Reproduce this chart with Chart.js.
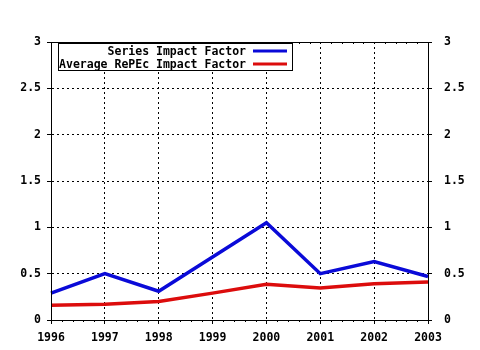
<!DOCTYPE html>
<html>
<head>
<meta charset="utf-8">
<script src="https://cdn.jsdelivr.net/npm/chart.js@4"></script>
<style>
  html, body { margin: 0; padding: 0; background: #fff; }
  #wrap { width: 480px; height: 350px; }
</style>
</head>
<body>
<div id="wrap"><canvas id="chart" width="480" height="350"></canvas></div>
<script>
// values
const years = ['1996', '1997', '1998', '1999', '2000', '2001', '2002', '2003'];
const seriesIF = [0.29, 0.50, 0.31, 0.68, 1.05, 0.50, 0.63, 0.47];
const avgRepecIF = [0.16, 0.17, 0.20, 0.29, 0.385, 0.345, 0.39, 0.41];
const yTicks = [0, 0.5, 1, 1.5, 2, 2.5, 3];
const seriesNames = ['Series Impact Factor', 'Average RePEc Impact Factor'];
const seriesColors = ['#0a0ad8', '#dc0c0c'];

const FONT = { family: '"DejaVu Sans Mono", "Liberation Mono", monospace', size: 11.5, weight: 'bold' };
const fontStr = 'bold 11.5px "DejaVu Sans Mono", "Liberation Mono", monospace';

// frame, minor ticks and the boxed legend
const decor = {
  id: 'decor',
  afterDraw(chart) {
    const ctx = chart.ctx;
    const a = chart.chartArea;
    const xs = chart.scales.x;
    ctx.save();
    ctx.strokeStyle = '#000';
    ctx.lineWidth = 1;
    ctx.strokeRect(Math.round(a.left) + 0.5, Math.round(a.top) + 0.5,
      Math.round(a.right - a.left), Math.round(a.bottom - a.top));

    // minor ticks between years
    ctx.beginPath();
    for (let i = 0; i < years.length - 1; i++) {
      for (let k = 1; k < 5; k++) {
        const px = Math.round(xs.getPixelForValue(i + k / 5)) + 0.5;
        ctx.moveTo(px, a.bottom);
        ctx.lineTo(px, a.bottom + 2);
        ctx.moveTo(px, a.top);
        ctx.lineTo(px, a.top + 2);
      }
    }
    ctx.stroke();

    // legend box
    const bx = 58.5, by = 43.5, bw = 234, bh = 27;
    ctx.fillStyle = '#fff';
    ctx.fillRect(bx, by, bw, bh);
    ctx.strokeRect(bx, by, bw, bh);
    ctx.font = fontStr;
    ctx.textAlign = 'right';
    ctx.textBaseline = 'middle';
    ctx.fillStyle = '#000';
    const rows = [51, 64];
    chart.data.datasets.forEach((ds, i) => {
      ctx.fillText(ds.label, 246, rows[i] + 1);
      ctx.strokeStyle = ds.borderColor;
      ctx.lineWidth = 3;
      ctx.beginPath();
      ctx.moveTo(253, rows[i]);
      ctx.lineTo(287, rows[i]);
      ctx.stroke();
    });
    ctx.restore();
  }
};

const yLabel = v => String(v);

new Chart(document.getElementById('chart'), {
  type: 'line',
  data: {
    labels: years,
    datasets: [
      { label: seriesNames[0], data: seriesIF, borderColor: seriesColors[0], borderWidth: 3.5,
        pointRadius: 0, fill: false, tension: 0, yAxisID: 'y' },
      { label: seriesNames[1], data: avgRepecIF, borderColor: seriesColors[1], borderWidth: 3.5,
        pointRadius: 0, fill: false, tension: 0, yAxisID: 'y' }
    ]
  },
  options: {
    responsive: false,
    animation: false,
    devicePixelRatio: 1,
    layout: { padding: { top: 42, left: 0, right: 0, bottom: 0 } },
    plugins: { legend: { display: false }, tooltip: { enabled: false } },
    scales: {
      x: {
        grid: { color: '#000', tickLength: 4 },
        border: { color: '#000', dash: [2, 3] },
        ticks: { color: '#000', font: FONT, padding: 7, maxRotation: 0, autoSkip: false },
        afterFit: s => { s.height = 30; }
      },
      y: {
        position: 'left',
        min: 0, max: 3,
        afterBuildTicks: s => { s.ticks = yTicks.map(v => ({ value: v })); },
        grid: { color: '#000', tickLength: 4 },
        border: { color: '#000', dash: [2, 3] },
        ticks: { color: '#000', font: FONT, padding: 6, callback: yLabel },
        afterFit: s => { s.width = 51; }
      },
      y2: {
        position: 'right',
        min: 0, max: 3,
        afterBuildTicks: s => { s.ticks = yTicks.map(v => ({ value: v })); },
        grid: { color: '#000', tickLength: 4, drawOnChartArea: false },
        border: { color: '#000' },
        ticks: { color: '#000', font: FONT, padding: 12, callback: yLabel },
        afterFit: s => { s.width = 52; }
      }
    }
  },
  plugins: [decor]
});
</script>
</body>
</html>
